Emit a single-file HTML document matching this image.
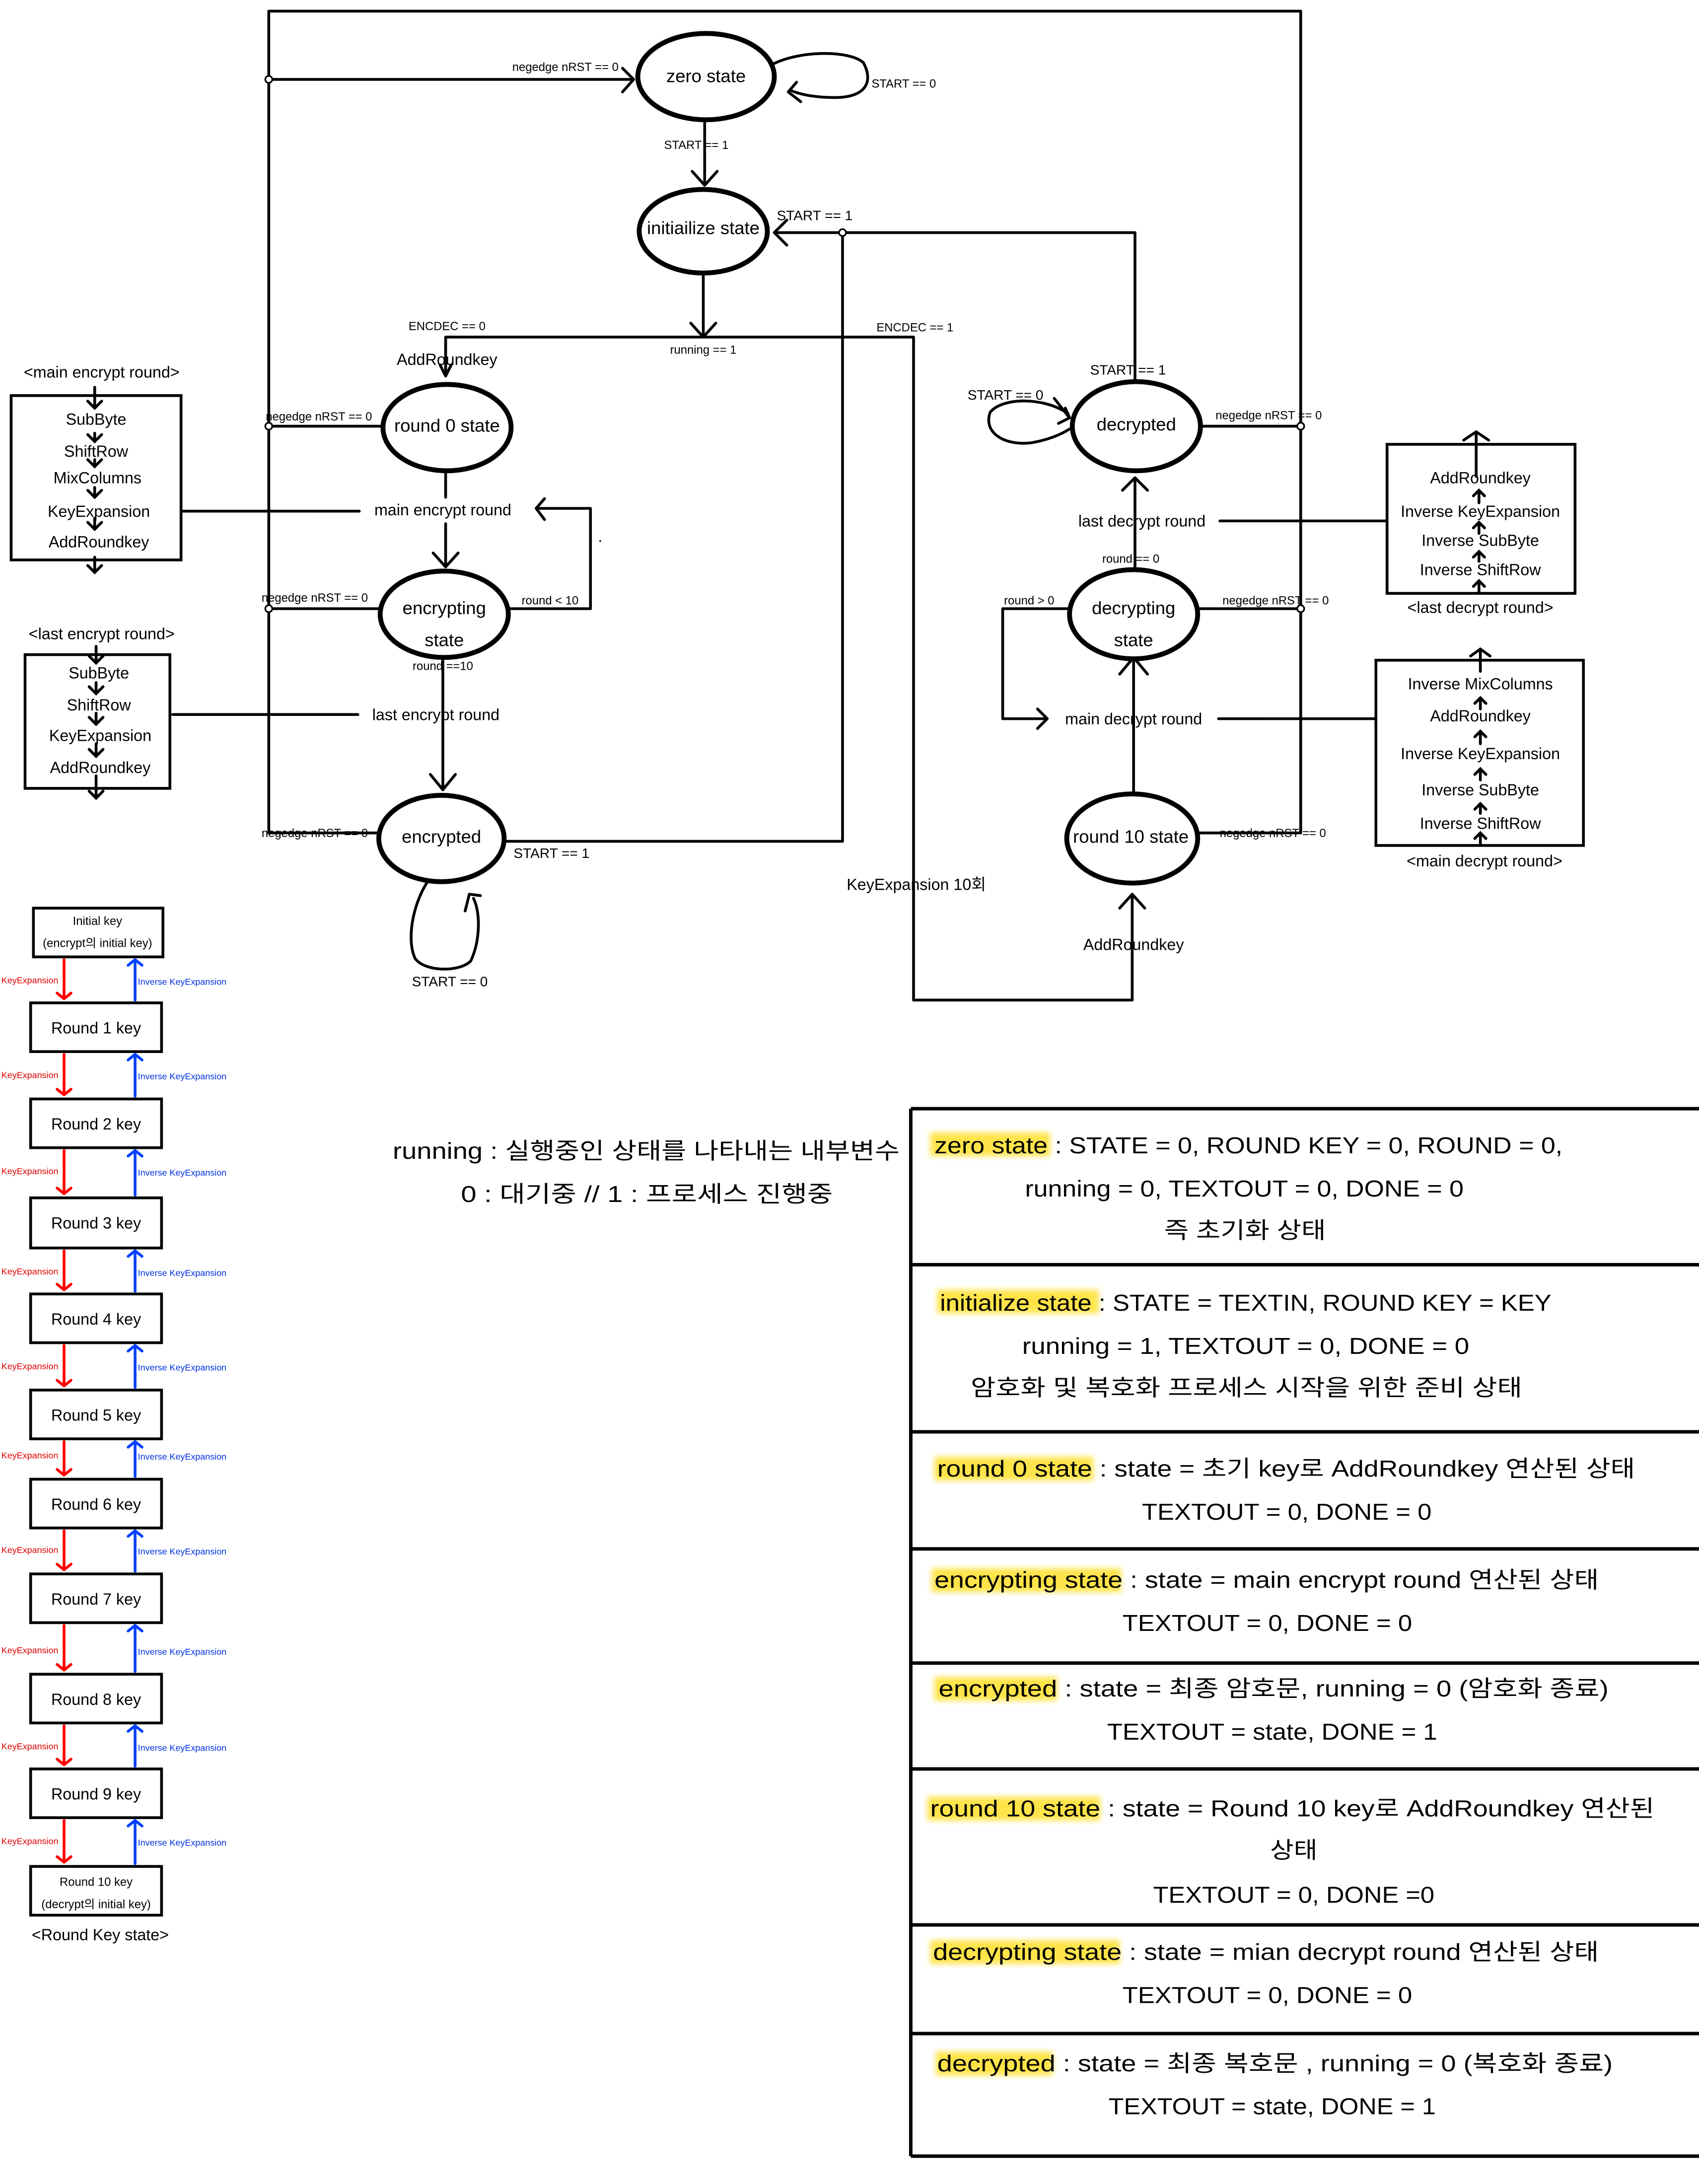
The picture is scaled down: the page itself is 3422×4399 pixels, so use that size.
<!DOCTYPE html>
<html><head><meta charset="utf-8"><style>
html,body{margin:0;padding:0;background:#fff;}
svg{display:block}
text{font-family:"Liberation Sans","Noto Sans CJK KR",sans-serif;fill:#000}
</style></head><body>
<svg width="3422" height="4399" viewBox="0 0 1220 1568" preserveAspectRatio="none" xmlns="http://www.w3.org/2000/svg">
<defs>
<filter id="hl" x="-10%" y="-30%" width="120%" height="160%"><feGaussianBlur stdDeviation="2"/></filter>
</defs>
<rect width="1220" height="1568" fill="#fff"/>
<g fill="none" stroke="#000" stroke-width="2" stroke-linecap="round" stroke-linejoin="round">
<path d="M193 598 V8 H934 V598"/>
<path d="M193 57 H455"/><path d="M447 49 L455 57 L447 66"/>
<path d="M193 306 H275"/><path d="M193 437 H273"/><path d="M193 598 H272"/>
<path d="M862 306 H934"/><path d="M860 437 H934"/><path d="M859 598 H934"/>
<path d="M506 88 V133"/><path d="M497 123 L506 133 L515 123"/>
<path d="M555 46 C575 36 610 36 620 45 C628 60 620 70 600 70 C585 70 575 68 568 65"/><path d="M572 59 L566 66 L575 73"/>
<path d="M505 197 V242"/><path d="M496 232 L505 242 L514 232"/>
<path d="M320 270 V242 H656 V718 H813 V642"/>
<path d="M316 262 L320 270 L324 262"/>
<path d="M804 652 L813 642 L822 652"/>
<path d="M815 272 V167 H556"/><path d="M565 158 L556 167 L565 176"/>
<path d="M605 167 V604 H363"/>
<path d="M320 338 V357"/><path d="M320 376 V407"/><path d="M311 397 L320 407 L329 397"/>
<path d="M131 367 H258"/>
<path d="M366 437 H424 V365 H385"/><path d="M391 358 L385 365 L391 373"/>
<path d="M318 472 V567"/><path d="M309 556 L318 567 L327 556"/>
<path d="M124 513 H257"/>
<path d="M307 633 C296 650 292 675 298 688 C305 698 330 698 338 690 C345 675 345 655 340 645"/><path d="M334 654 L337 642 L345 643"/>
<path d="M765 293 L768 300 M757 286 L768 300 L760 304"/>
<path d="M767 297 C750 285 720 285 711 296 C706 310 720 320 740 318 C752 316 762 312 768 308"/>
<path d="M815 409 V343"/><path d="M806 352 L815 343 L824 352"/>
<path d="M876 374 H995"/>
<path d="M768 437 H720 V516 H752"/><path d="M745 509 L752 516 L745 523"/>
<path d="M875 516 H987"/>
<path d="M814 570 V472"/><path d="M804 484 L814 472 L824 484"/>
</g>
<g fill="#fff" stroke="#000" stroke-width="1.2">
<circle cx="193" cy="57" r="2.5"/><circle cx="193" cy="306" r="2.5"/><circle cx="193" cy="437" r="2.5"/>
<circle cx="934" cy="306" r="2.5"/><circle cx="934" cy="437" r="2.5"/><circle cx="605" cy="167" r="2.5"/>
</g>
<g fill="#fff" stroke="#000" stroke-width="3.5">
<ellipse cx="507" cy="55" rx="49" ry="31"/>
<ellipse cx="505" cy="166" rx="46" ry="30"/>
<ellipse cx="321" cy="307" rx="46" ry="31"/>
<ellipse cx="319" cy="441" rx="46" ry="31"/>
<ellipse cx="317" cy="602" rx="45" ry="31"/>
<ellipse cx="816" cy="306" rx="46" ry="32"/>
<ellipse cx="814" cy="441" rx="46" ry="32"/>
<ellipse cx="813" cy="602" rx="47" ry="32"/>
</g>
<g font-size="13" text-anchor="middle">
<text x="507" y="59">zero state</text>
<text x="505" y="168">initiailize state</text>
<text x="321" y="310">round 0 state</text>
<text x="319" y="441">encrypting</text><text x="319" y="464">state</text>
<text x="317" y="605">encrypted</text>
<text x="816" y="309">decrypted</text>
<text x="814" y="441">decrypting</text><text x="814" y="464">state</text>
<text x="812" y="605">round 10 state</text>
</g>
<g font-size="8.5" text-anchor="middle">
<text x="406" y="51">negedge nRST == 0</text>
<text x="649" y="63">START == 0</text>
<text x="500" y="107">START == 1</text>
<text x="321" y="237">ENCDEC == 0</text>
<text x="505" y="254">running == 1</text>
<text x="657" y="238">ENCDEC == 1</text>
<text x="229" y="302">negedge nRST == 0</text>
<text x="226" y="432">negedge nRST == 0</text>
<text x="395" y="434">round &lt; 10</text>
<text x="318" y="481">round ==10</text>
<text x="226" y="601">negedge nRST == 0</text>
<text x="911" y="301">negedge nRST == 0</text>
<text x="812" y="404">round == 0</text>
<text x="739" y="434">round &gt; 0</text>
<text x="916" y="434">negedge nRST == 0</text>
<text x="914" y="601">negedge nRST == 0</text>
</g>
<g font-size="10" text-anchor="middle">
<text x="585" y="158">START == 1</text>
<text x="810" y="269">START == 1</text>
<text x="722" y="287">START == 0</text>
<text x="396" y="616">START == 1</text>
<text x="323" y="708">START == 0</text>
</g>
<g font-size="11.5" text-anchor="middle">
<text x="321" y="262">AddRoundkey</text>
<text x="318" y="370">main encrypt round</text>
<text x="313" y="517">last encrypt round</text>
<text x="820" y="378">last decrypt round</text>
<text x="814" y="520">main decrypt round</text>
<text x="658" y="639">KeyExpansion 10회</text>
<text x="814" y="682">AddRoundkey</text>
<text x="431" y="389">.</text>
</g>
<g fill="none" stroke="#000" stroke-width="2" stroke-linecap="round">
<rect x="8" y="284" width="122" height="118"/>
<rect x="18" y="470" width="104" height="96"/>
<rect x="996" y="319" width="135" height="107"/>
<rect x="988" y="474" width="149" height="133"/>
<path d="M68 278 V292 M63 288 L68 293 L73 288"/>
<path d="M68 311 V316 M63 312 L68 317 L73 312"/>
<path d="M68 330 V334 M63 330 L68 335 L73 330"/>
<path d="M68 350 V356 M63 352 L68 357 L73 352"/>
<path d="M68 372 V378 M63 375 L68 380 L73 375"/>
<path d="M68 400 V411 M63 406 L68 411 L73 406"/>
<path d="M69 464 V475 M64 471 L69 476 L74 471"/>
<path d="M69 490 V497 M64 493 L69 498 L74 493"/>
<path d="M69 512 V519 M64 515 L69 520 L74 515"/>
<path d="M69 534 V542 M64 538 L69 543 L74 538"/>
<path d="M69 557 V573 M64 568 L69 573 L74 568"/>
<path d="M1060 342 V311 M1051 316 L1060 310 L1069 316"/>
<path d="M1062 361 V352 M1058 356 L1062 352 L1066 356"/>
<path d="M1062 383 V375 M1058 379 L1062 375 L1066 379"/>
<path d="M1062 403 V396 M1058 400 L1062 396 L1066 400"/>
<path d="M1062 425 V417 M1058 421 L1062 417 L1066 421"/>
<path d="M1063 482 V467 M1056 471 L1063 466 L1070 471"/>
<path d="M1063 509 V501 M1059 505 L1063 501 L1067 505"/>
<path d="M1063 534 V525 M1059 529 L1063 525 L1067 529"/>
<path d="M1063 560 V552 M1059 556 L1063 552 L1067 556"/>
<path d="M1063 584 V577 M1059 581 L1063 577 L1067 581"/>
<path d="M1063 606 V598 M1059 602 L1063 598 L1067 602"/>
</g>
<g font-size="11.5" text-anchor="middle">
<text x="73" y="271">&lt;main encrypt round&gt;</text>
<text x="69" y="305">SubByte</text><text x="69" y="328">ShiftRow</text><text x="70" y="347">MixColumns</text><text x="71" y="371">KeyExpansion</text><text x="71" y="393">AddRoundkey</text>
<text x="73" y="459">&lt;last encrypt round&gt;</text>
<text x="71" y="487">SubByte</text><text x="71" y="510">ShiftRow</text><text x="72" y="532">KeyExpansion</text><text x="72" y="555">AddRoundkey</text>
<text x="1063" y="347">AddRoundkey</text><text x="1063" y="371">Inverse KeyExpansion</text><text x="1063" y="392">Inverse SubByte</text><text x="1063" y="413">Inverse ShiftRow</text>
<text x="1063" y="440">&lt;last decrypt round&gt;</text>
<text x="1063" y="495">Inverse MixColumns</text><text x="1063" y="518">AddRoundkey</text><text x="1063" y="545">Inverse KeyExpansion</text><text x="1063" y="571">Inverse SubByte</text><text x="1063" y="595">Inverse ShiftRow</text>
<text x="1066" y="622">&lt;main decrypt round&gt;</text>
</g>
<g fill="none" stroke="#000" stroke-width="2">
<rect x="24" y="652" width="93" height="35"/>
<rect x="22" y="720" width="94" height="35"/>
<rect x="22" y="789" width="94" height="35"/>
<rect x="22" y="860" width="94" height="36"/>
<rect x="22" y="929" width="94" height="35"/>
<rect x="22" y="998" width="94" height="35"/>
<rect x="22" y="1062" width="94" height="35"/>
<rect x="22" y="1130" width="94" height="35"/>
<rect x="22" y="1202" width="94" height="35"/>
<rect x="22" y="1270" width="94" height="35"/>
<rect x="22" y="1340" width="94" height="35"/>
</g>
<g font-size="11.5" text-anchor="middle">
<text x="69" y="742">Round 1 key</text><text x="69" y="811">Round 2 key</text><text x="69" y="882">Round 3 key</text>
<text x="69" y="951">Round 4  key</text><text x="69" y="1020">Round 5 key</text><text x="69" y="1084">Round 6 key</text>
<text x="69" y="1152">Round 7 key</text><text x="69" y="1224">Round 8 key</text><text x="69" y="1292">Round 9 key</text>
<text x="70" y="664" font-size="8.5">Initial key</text><text x="70" y="680" font-size="8.5">(encrypt의 initial key)</text>
<text x="69" y="1354" font-size="8.5">Round 10 key</text><text x="69" y="1370" font-size="8.5">(decrypt의 initial key)</text>
<text x="72" y="1393">&lt;Round Key state&gt;</text>
</g>
<g stroke-width="2" fill="none" stroke-linecap="round" stroke-linejoin="round">
<g stroke="#f00">
<path d="M46 689 V717 M41 713 L46 717 L51 713"/>
<path d="M46 757 V786 M41 782 L46 786 L51 782"/>
<path d="M46 826 V857 M41 853 L46 857 L51 853"/>
<path d="M46 898 V926 M41 922 L46 926 L51 922"/>
<path d="M46 966 V995 M41 991 L46 995 L51 991"/>
<path d="M46 1035 V1059 M41 1055 L46 1059 L51 1055"/>
<path d="M46 1099 V1127 M41 1123 L46 1127 L51 1123"/>
<path d="M46 1167 V1199 M41 1195 L46 1199 L51 1195"/>
<path d="M46 1239 V1267 M41 1263 L46 1267 L51 1263"/>
<path d="M46 1307 V1337 M41 1333 L46 1337 L51 1333"/>
</g>
<g stroke="#0040ff">
<path d="M97 718 V689 M92 693 L97 689 L102 693"/>
<path d="M97 787 V757 M92 761 L97 757 L102 761"/>
<path d="M97 858 V826 M92 830 L97 826 L102 830"/>
<path d="M97 927 V898 M92 902 L97 898 L102 902"/>
<path d="M97 996 V966 M92 970 L97 966 L102 970"/>
<path d="M97 1060 V1035 M92 1039 L97 1035 L102 1039"/>
<path d="M97 1128 V1099 M92 1103 L97 1099 L102 1103"/>
<path d="M97 1200 V1167 M92 1171 L97 1167 L102 1171"/>
<path d="M97 1268 V1239 M92 1243 L97 1239 L102 1243"/>
<path d="M97 1338 V1307 M92 1311 L97 1307 L102 1311"/>
</g>
</g>
<g font-size="6.4">
<g>
<text x="1" y="706" style="fill:#e00000">KeyExpansion</text><text x="1" y="774" style="fill:#e00000">KeyExpansion</text><text x="1" y="843" style="fill:#e00000">KeyExpansion</text>
<text x="1" y="915" style="fill:#e00000">KeyExpansion</text><text x="1" y="983" style="fill:#e00000">KeyExpansion</text><text x="1" y="1047" style="fill:#e00000">KeyExpansion</text>
<text x="1" y="1115" style="fill:#e00000">KeyExpansion</text><text x="1" y="1187" style="fill:#e00000">KeyExpansion</text><text x="1" y="1256" style="fill:#e00000">KeyExpansion</text>
<text x="1" y="1324" style="fill:#e00000">KeyExpansion</text>
</g>
<g>
<text x="99" y="707" style="fill:#0030e0">Inverse KeyExpansion</text><text x="99" y="775" style="fill:#0030e0">Inverse KeyExpansion</text>
<text x="99" y="844" style="fill:#0030e0">Inverse KeyExpansion</text><text x="99" y="916" style="fill:#0030e0">Inverse KeyExpansion</text>
<text x="99" y="984" style="fill:#0030e0">Inverse KeyExpansion</text><text x="99" y="1048" style="fill:#0030e0">Inverse KeyExpansion</text>
<text x="99" y="1116" style="fill:#0030e0">Inverse KeyExpansion</text><text x="99" y="1188" style="fill:#0030e0">Inverse KeyExpansion</text>
<text x="99" y="1257" style="fill:#0030e0">Inverse KeyExpansion</text><text x="99" y="1325" style="fill:#0030e0">Inverse KeyExpansion</text>
</g>
</g>
<g font-size="16.5">
<text x="282" y="832" textLength="364" lengthAdjust="spacingAndGlyphs">running : 실행중인 상태를 나타내는 내부변수</text>
<text x="331" y="863" textLength="267" lengthAdjust="spacingAndGlyphs">0 : 대기중 // 1 : 프로세스 진행중</text>
</g>
<g stroke="#000" stroke-width="2.5" fill="none">
<path d="M654 796 V1548"/>
<path d="M654 796 H1220 M655 908 H1220 M655 1028 H1220 M655 1112 H1220 M655 1194 H1220 M655 1270 H1220 M655 1382 H1220 M655 1460 H1220 M654 1548 H1220"/>
</g>
<g fill="#ffe44a" filter="url(#hl)">
<rect x="668" y="813" width="86" height="17"/>
<rect x="673" y="926" width="116" height="17"/>
<rect x="671" y="1046" width="114" height="17"/>
<rect x="669" y="1126" width="136" height="17"/>
<rect x="671" y="1204" width="88" height="17"/>
<rect x="666" y="1290" width="124" height="17"/>
<rect x="668" y="1393" width="136" height="17"/>
<rect x="672" y="1473" width="84" height="17"/>
</g>
<g font-size="16.5" lengthAdjust="spacingAndGlyphs">
<text x="671" y="828" textLength="451" lengthAdjust="spacingAndGlyphs">zero state : STATE = 0, ROUND KEY = 0, ROUND = 0,</text>
<text x="736" y="859" textLength="315" lengthAdjust="spacingAndGlyphs">running = 0, TEXTOUT = 0, DONE = 0</text>
<text x="836" y="889" textLength="116" lengthAdjust="spacingAndGlyphs">즉 초기화 상태</text>
<text x="675" y="941" textLength="439" lengthAdjust="spacingAndGlyphs">initialize state : STATE = TEXTIN, ROUND KEY = KEY</text>
<text x="734" y="972" textLength="321" lengthAdjust="spacingAndGlyphs">running  = 1, TEXTOUT = 0, DONE = 0</text>
<text x="697" y="1002" textLength="396" lengthAdjust="spacingAndGlyphs">암호화 및 복호화 프로세스 시작을 위한 준비 상태</text>
<text x="673" y="1060" textLength="501" lengthAdjust="spacingAndGlyphs">round 0 state : state = 초기 key로 AddRoundkey 연산된 상태</text>
<text x="820" y="1091" textLength="208" lengthAdjust="spacingAndGlyphs">TEXTOUT = 0, DONE = 0</text>
<text x="671" y="1140" textLength="477" lengthAdjust="spacingAndGlyphs">encrypting state : state = main encrypt round 연산된 상태</text>
<text x="806" y="1171" textLength="208" lengthAdjust="spacingAndGlyphs">TEXTOUT = 0, DONE = 0</text>
<text x="674" y="1218" textLength="481" lengthAdjust="spacingAndGlyphs">encrypted : state = 최종 암호문, running = 0 (암호화 종료)</text>
<text x="795" y="1249" textLength="237" lengthAdjust="spacingAndGlyphs">TEXTOUT = state, DONE = 1</text>
<text x="668" y="1304" textLength="520" lengthAdjust="spacingAndGlyphs">round 10 state : state = Round 10 key로  AddRoundkey 연산된</text>
<text x="912" y="1334" textLength="34" lengthAdjust="spacingAndGlyphs">상태</text>
<text x="828" y="1366" textLength="202" lengthAdjust="spacingAndGlyphs">TEXTOUT = 0, DONE =0</text>
<text x="670" y="1407" textLength="478" lengthAdjust="spacingAndGlyphs">decrypting state : state = mian decrypt round 연산된 상태</text>
<text x="806" y="1438" textLength="208" lengthAdjust="spacingAndGlyphs">TEXTOUT = 0, DONE = 0</text>
<text x="673" y="1487" textLength="485" lengthAdjust="spacingAndGlyphs">decrypted : state = 최종 복호문 , running = 0 (복호화 종료)</text>
<text x="796" y="1518" textLength="235" lengthAdjust="spacingAndGlyphs">TEXTOUT = state, DONE = 1</text>
</g>
</svg>
</body></html>
